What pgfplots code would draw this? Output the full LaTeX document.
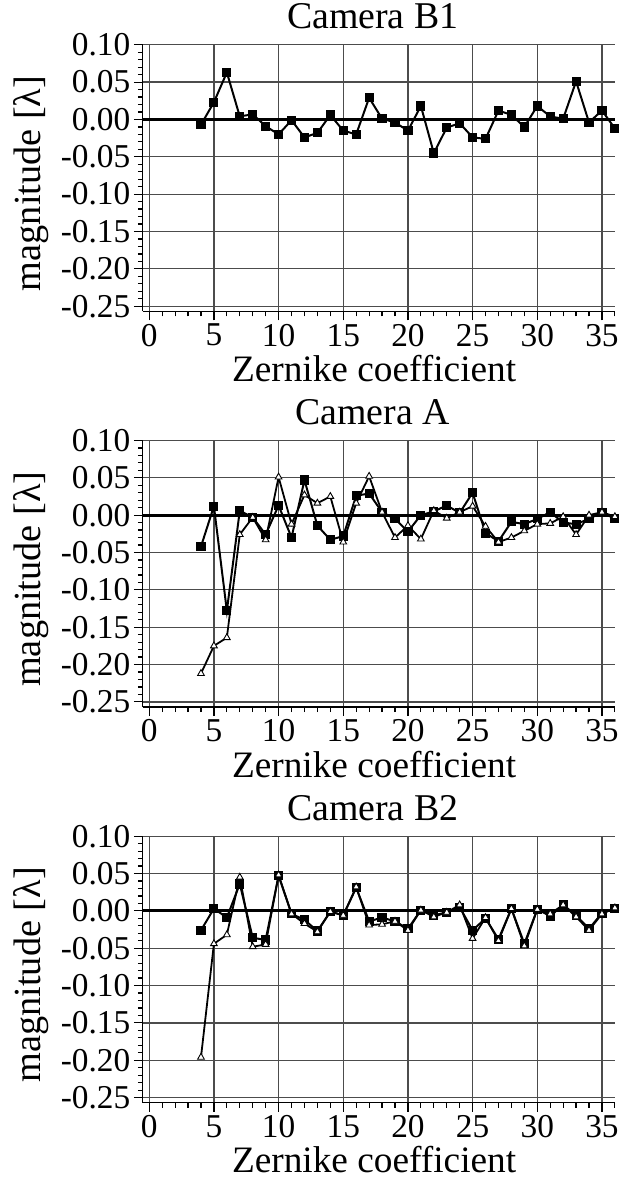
\documentclass[border=0pt]{standalone}
\usepackage{fontspec}
\setmainfont{Liberation Serif}
\usepackage{pgfplots}
\pgfplotsset{compat=1.18}

\pgfplotsset{
  zern/.style={
    width=474.5pt, height=268pt, scale only axis,
    xmin=-0.5, xmax=36, ymin=-0.257, ymax=0.10,
    axis lines=left, axis line style={-, line width=1.3pt},
    tick align=outside, tick style={black, line width=1.2pt},
    major tick length=9pt, minor tick length=5pt,
    xtick={0,5,...,35}, minor xtick={0,...,36},
    ytick={-0.25,-0.20,-0.15,-0.10,-0.05,0,0.05,0.10},
    yticklabels={-0.25,-0.20,-0.15,-0.10,-0.05,0.00,0.05,0.10},
    minor ytick={-0.25,-0.24,...,0.1},
    grid=major, major grid style={black!70, line width=1.3pt},
    /pgf/number format/assume math mode=true,
    tick label style={font=\fontsize{33.5}{35}\selectfont},
    xticklabel style={yshift=-2pt, inner sep=1.5pt},
    title style={font=\fontsize{38}{40}\selectfont, at={(axis description cs:0.487,1)}, anchor=base, yshift=10pt},
    xlabel={Zernike coefficient},
    xlabel style={font=\fontsize{37.5}{39}\selectfont, inner sep=1pt, at={(axis description cs:0.49,0)}, anchor=base, yshift=-70.5pt},
    every axis y label/.style={at={(axis description cs:-0.237,0.48)}, rotate=90, anchor=center,
      font=\fontsize{38.5}{40}\selectfont},
    ylabel={magnitude [λ]},
    clip=false,
  },
  sq/.style={black, line width=2pt, mark=square*, mark size=3.6pt, mark options={solid, fill=black}},
  tri/.style={black, line width=1.8pt, mark=triangle*, mark size=3.9pt, mark options={solid, fill=white, line width=0.9pt}},
  zero/.style={black, line width=3pt, no marks, forget plot},
}

\begin{document}
\begin{tikzpicture}
\useasboundingbox (-143.5pt,-877pt) rectangle (486.5pt,313pt);

% Camera B1
\begin{axis}[zern, title={Camera B1}]
\addplot[zero] coordinates {(-0.5,0) (36,0)};
\addplot[sq] coordinates {
(4,-0.007) (5,0.023) (6,0.063) (7,0.004) (8,0.007) (9,-0.009) (10,-0.020)
(11,-0.001) (12,-0.024) (13,-0.018) (14,0.006) (15,-0.015) (16,-0.020)
(17,0.029) (18,0.001) (19,-0.004) (20,-0.015) (21,0.018) (22,-0.045)
(23,-0.011) (24,-0.005) (25,-0.024) (26,-0.026) (27,0.012) (28,0.006)
(29,-0.010) (30,0.018) (31,0.004) (32,0.001) (33,0.051) (34,-0.004)
(35,0.012) (36,-0.012)
};
\end{axis}

% Camera A
\begin{axis}[zern, title={Camera A}, at={(0pt,-397.7pt)}]
\addplot[zero] coordinates {(-0.5,0) (36,0)};
\addplot[sq] coordinates {
(4,-0.042) (5,0.012) (6,-0.128) (7,0.006) (8,-0.003) (9,-0.026) (10,0.013)
(11,-0.030) (12,0.047) (13,-0.014) (14,-0.033) (15,-0.028) (16,0.026)
(17,0.029) (18,0.004) (19,-0.005) (20,-0.022) (21,0.000) (22,0.005)
(23,0.013) (24,0.003) (25,0.030) (26,-0.024) (27,-0.035) (28,-0.009)
(29,-0.012) (30,-0.005) (31,0.004) (32,-0.010) (33,-0.012) (34,-0.005)
(35,0.004) (36,-0.005)
};
\addplot[tri] coordinates {
(4,-0.212) (5,-0.175) (6,-0.164) (7,-0.026) (8,-0.003) (9,-0.033) (10,0.051)
(11,-0.012) (12,0.027) (13,0.016) (14,0.025) (15,-0.036) (16,0.016)
(17,0.052) (18,0.004) (19,-0.030) (20,-0.014) (21,-0.032) (22,0.006)
(23,-0.004) (24,0.004) (25,0.012) (26,-0.015) (27,-0.036) (28,-0.030)
(29,-0.021) (30,-0.012) (31,-0.011) (32,-0.002) (33,-0.026) (34,0.000)
(35,0.004) (36,-0.002)
};
\end{axis}

% Camera B2
\begin{axis}[zern, title={Camera B2}, at={(0pt,-795.4pt)}]
\addplot[zero] coordinates {(-0.5,0) (36,0)};
\addplot[sq] coordinates {
(4,-0.026) (5,0.003) (6,-0.009) (7,0.036) (8,-0.036) (9,-0.039) (10,0.047)
(11,-0.004) (12,-0.012) (13,-0.027) (14,-0.001) (15,-0.006) (16,0.031)
(17,-0.014) (18,-0.009) (19,-0.014) (20,-0.024) (21,0.001) (22,-0.006)
(23,-0.002) (24,0.005) (25,-0.026) (26,-0.010) (27,-0.038) (28,0.003)
(29,-0.044) (30,0.002) (31,-0.007) (32,0.008) (33,-0.006) (34,-0.024)
(35,-0.003) (36,0.003)
};
\addplot[tri] coordinates {
(4,-0.196) (5,-0.044) (6,-0.032) (7,0.045) (8,-0.048) (9,-0.045) (10,0.048)
(11,-0.004) (12,-0.017) (13,-0.028) (14,-0.001) (15,-0.006) (16,0.032)
(17,-0.019) (18,-0.018) (19,-0.014) (20,-0.026) (21,0.001) (22,-0.008)
(23,-0.002) (24,0.008) (25,-0.037) (26,-0.009) (27,-0.040) (28,0.003)
(29,-0.047) (30,0.002) (31,-0.004) (32,0.008) (33,-0.008) (34,-0.026)
(35,-0.004) (36,0.004)
};
\end{axis}
\end{tikzpicture}
\end{document}
